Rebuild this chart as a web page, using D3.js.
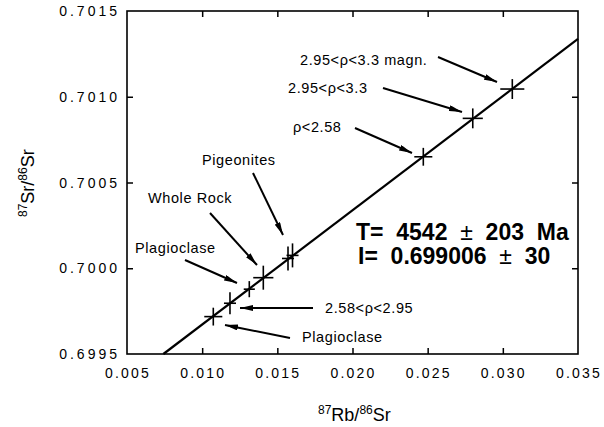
<!DOCTYPE html>
<html>
<head>
<meta charset="utf-8">
<script src="https://cdn.jsdelivr.net/npm/d3@7"></script>
<style>
  body { margin: 0; background: #fff; }
  text { font-family: "Liberation Sans", Arial, Helvetica, sans-serif; fill: #000; }
</style>
</head>
<body>
<div id="graph"></div>
<script>
// sample labels (same order as points)
var sampleNames = ["Plagioclase", "2.58<\u03c1<2.95", "Plagioclase", "Whole Rock",
                   "Pigeonites", "Pigeonites", "\u03c1<2.58", "2.95<\u03c1<3.3", "2.95<\u03c1<3.3 magn."];
// 87Rb/86Sr and 87Sr/86Sr, with error half-widths
var rbSr  = [0.01074, 0.01185, 0.013135, 0.014067, 0.01571, 0.01601, 0.02471, 0.0280, 0.03063];
var srSr  = [0.699718, 0.699796, 0.699878, 0.699945, 0.700057, 0.700075, 0.700650, 0.700874, 0.701045];
var rbErr = [0.0006, 0.0004, 0.00037, 0.00067, 0.0004, 0.0004, 0.0006, 0.00067, 0.0008];
var srErr = [0.000052, 0.000064, 0.000047, 0.00007, 0.00007, 0.00007, 0.000052, 0.000058, 0.000058];

// isochron ends
var isoX = [0.00742, 0.035];
var isoY = [0.6995, 0.701337];

var xTicks = [0.005, 0.010, 0.015, 0.020, 0.025, 0.030, 0.035];
var yTicks = [0.6995, 0.7000, 0.7005, 0.7010, 0.7015];

var W = 604, H = 427;
var pL = 127, pR = 578, pT = 11, pB = 354;

var x = d3.scaleLinear().domain([0.005, 0.035]).range([pL, pR]);
var y = d3.scaleLinear().domain([0.6995, 0.7015]).range([pB, pT]);

var svg = d3.select("#graph").append("svg")
    .attr("width", W)
    .attr("height", H);

svg.append("defs").append("marker")
    .attr("id", "head")
    .attr("markerUnits", "userSpaceOnUse")
    .attr("viewBox", "0 0 13 6")
    .attr("refX", 13).attr("refY", 3)
    .attr("markerWidth", 13).attr("markerHeight", 6)
    .attr("orient", "auto")
  .append("path")
    .attr("d", "M0,0 L13,3 L0,6 Z")
    .attr("fill", "#000");

// frame
svg.append("rect")
    .attr("x", pL).attr("y", pT)
    .attr("width", pR - pL).attr("height", pB - pT)
    .attr("fill", "none").attr("stroke", "#000").attr("stroke-width", 1.6);

// axes with inward ticks
var fmtX = d3.format(".3f"), fmtY = d3.format(".4f");
var tickStyle = function(g) {
    g.select(".domain").remove();
    g.selectAll(".tick line").attr("stroke", "#000").attr("stroke-width", 1.5);
    g.selectAll(".tick text").remove();
};
svg.append("g").attr("transform", "translate(0," + pB + ")")
    .call(d3.axisTop(x).tickValues(xTicks.slice(1, -1)).tickSize(6)).call(tickStyle);
svg.append("g").attr("transform", "translate(0," + pT + ")")
    .call(d3.axisBottom(x).tickValues(xTicks.slice(1, -1)).tickSize(6)).call(tickStyle);
svg.append("g").attr("transform", "translate(" + pL + ",0)")
    .call(d3.axisRight(y).tickValues(yTicks.slice(1, -1)).tickSize(6)).call(tickStyle);
svg.append("g").attr("transform", "translate(" + pR + ",0)")
    .call(d3.axisLeft(y).tickValues(yTicks.slice(1, -1)).tickSize(6)).call(tickStyle);

// tick labels
svg.selectAll(".xl").data(xTicks).enter().append("text")
    .attr("x", function(d) { return x(d) + 1; })
    .attr("y", pB + 24)
    .attr("text-anchor", "middle")
    .attr("font-size", 14).attr("letter-spacing", 2.2)
    .text(function(d) { return fmtX(d); });
svg.selectAll(".yl").data(yTicks).enter().append("text")
    .attr("x", pL - 7)
    .attr("y", function(d) { return y(d) + 5; })
    .attr("text-anchor", "end")
    .attr("font-size", 14).attr("letter-spacing", 3)
    .text(function(d) { return fmtY(d); });

// axis titles
var xt = svg.append("text").attr("x", 318).attr("y", 421).attr("font-size", 18);
xt.append("tspan").attr("font-size", 12).attr("dy", -7).text("87");
xt.append("tspan").attr("dy", 7).text("Rb/");
xt.append("tspan").attr("font-size", 12).attr("dy", -7).text("86");
xt.append("tspan").attr("dy", 7).text("Sr");

var yt = svg.append("text").attr("transform", "translate(34,217) rotate(-90)").attr("font-size", 18);
yt.append("tspan").attr("font-size", 12).attr("dy", -7).text("87");
yt.append("tspan").attr("dy", 7).text("Sr/");
yt.append("tspan").attr("font-size", 12).attr("dy", -7).text("86");
yt.append("tspan").attr("dy", 7).text("Sr");

// isochron
var line = d3.line().x(function(d) { return x(d[0]); }).y(function(d) { return y(d[1]); });
svg.append("path")
    .datum(d3.zip(isoX, isoY))
    .attr("d", line)
    .attr("fill", "none").attr("stroke", "#000").attr("stroke-width", 2.2);

// error crosses
var pts = d3.range(rbSr.length);
var cross = svg.append("g").attr("stroke", "#000").attr("stroke-width", 1.6);
cross.selectAll(".h").data(pts).enter().append("line")
    .attr("x1", function(i) { return x(rbSr[i] - rbErr[i]); })
    .attr("x2", function(i) { return x(rbSr[i] + rbErr[i]); })
    .attr("y1", function(i) { return y(srSr[i]); })
    .attr("y2", function(i) { return y(srSr[i]); });
cross.selectAll(".v").data(pts).enter().append("line")
    .attr("x1", function(i) { return x(rbSr[i]); })
    .attr("x2", function(i) { return x(rbSr[i]); })
    .attr("y1", function(i) { return y(srSr[i] - srErr[i]); })
    .attr("y2", function(i) { return y(srSr[i] + srErr[i]); });

// annotation layout: label position, arrow start, arrow tip (px)
var notes = [
    {t: 0, tx: 302, ty: 342, ax: 290, ay: 338, bx: 225, by: 325},
    {t: 1, tx: 325, ty: 313, ax: 313, ay: 308, bx: 240, by: 308},
    {t: 2, tx: 135, ty: 253, ax: 185, ay: 260, bx: 237, by: 283},
    {t: 3, tx: 148, ty: 203, ax: 210, ay: 213, bx: 257, by: 265},
    {t: 4, tx: 202, ty: 165, ax: 253, ay: 173, bx: 283, by: 235},
    {t: 6, tx: 293, ty: 132, ax: 355, ay: 128, bx: 412, by: 153},
    {t: 7, tx: 288, ty: 93,  ax: 383, ay: 88,  bx: 462, by: 112},
    {t: 8, tx: 300, ty: 65,  ax: 438, ay: 57,  bx: 497, by: 82}
];
svg.selectAll(".arr").data(notes).enter().append("line")
    .attr("x1", function(d) { return d.ax; }).attr("y1", function(d) { return d.ay; })
    .attr("x2", function(d) { return d.bx; }).attr("y2", function(d) { return d.by; })
    .attr("stroke", "#000").attr("stroke-width", 2)
    .attr("marker-end", "url(#head)");
svg.selectAll(".lab").data(notes).enter().append("text")
    .attr("x", function(d) { return d.tx; }).attr("y", function(d) { return d.ty; })
    .attr("font-size", 14.5).attr("letter-spacing", 0.6)
    .text(function(d) { return sampleNames[d.t]; });

// age result
var r1 = svg.append("text").attr("x", 356).attr("y", 240).attr("font-size", 23)
    .attr("font-weight", "bold").attr("xml:space", "preserve");
r1.append("tspan").text("T=  4542  ");
r1.append("tspan").attr("font-weight", "normal").text("\u00b1");
r1.append("tspan").text("  203  Ma");
var r2 = svg.append("text").attr("x", 358).attr("y", 264).attr("font-size", 23)
    .attr("font-weight", "bold").attr("xml:space", "preserve");
r2.append("tspan").text("I=  0.699006  ");
r2.append("tspan").attr("font-weight", "normal").text("\u00b1");
r2.append("tspan").text("  30");
</script>
</body>
</html>
